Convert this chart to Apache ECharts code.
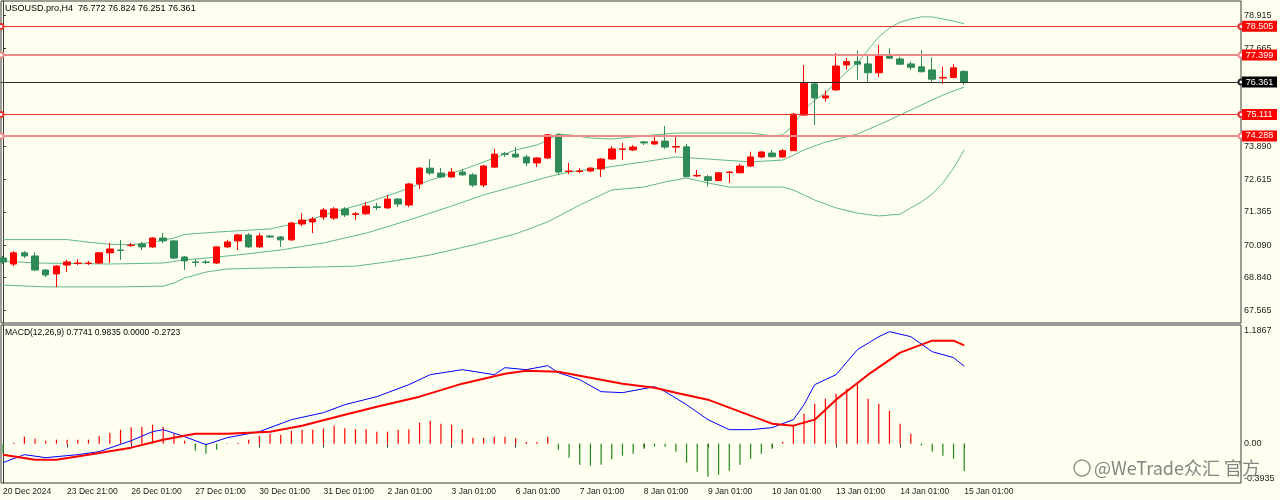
<!DOCTYPE html>
<html><head><meta charset="utf-8">
<script src="https://cdn.jsdelivr.net/npm/echarts@6/dist/echarts.min.js"></script>
<style>html,body{margin:0;padding:0;background:#fffff0}#c{width:1280px;height:500px}</style>
</head><body><div id="c"></div>
<script>
// ---- DATA ----
const symbolTitle = 'USOUSD.pro,H4  76.772 76.824 76.251 76.361';
const macdTitle = 'MACD(12,26,9) 0.7741 0.9835 0.0000 -0.2723';
// candles: [open, close, low, high]
const candles = [
[69.59,69.44,69.36,69.67],[69.36,69.79,69.28,69.86],[69.79,69.67,69.59,69.86],[69.67,69.13,69.09,69.82],
[69.13,68.94,68.86,69.17],[68.98,69.28,68.48,69.32],[69.32,69.44,69.05,69.52],[69.38,69.40,69.32,69.55],
[69.38,69.40,69.32,69.48],[69.40,69.79,69.36,69.82],[69.79,69.94,69.40,70.17],[69.90,69.88,69.52,70.29],
[70.07,70.09,70.02,70.17],[70.13,70.02,69.90,70.21],[70.02,70.36,69.98,70.40],[70.36,70.25,70.17,70.55],
[70.25,69.59,69.55,70.29],[69.63,69.48,69.13,69.67],[69.44,69.42,69.25,69.55],[69.44,69.42,69.36,69.52],
[69.40,70.02,69.36,70.05],[70.02,70.21,69.98,70.29],[70.25,70.48,69.90,70.52],[70.48,70.02,69.98,70.55],
[70.02,70.44,69.98,70.55],[70.44,70.40,70.36,70.48],[70.40,70.29,70.02,70.44],[70.29,70.94,70.25,70.98],
[70.90,71.05,70.82,71.32],[70.98,71.09,70.55,71.17],[71.17,71.44,71.06,71.52],[71.13,71.48,71.06,71.55],
[71.48,71.25,71.17,71.55],[71.27,71.29,71.06,71.36],[71.29,71.59,71.25,71.75],[71.56,71.54,71.44,71.71],
[71.52,71.86,71.48,72.02],[71.86,71.67,71.55,71.90],[71.63,72.44,71.55,72.48],[72.44,73.05,72.25,73.09],
[73.05,72.86,72.79,73.40],[72.86,72.71,72.67,73.05],[72.71,72.90,72.67,73.05],[72.90,72.79,72.75,73.02],
[72.79,72.40,72.32,72.86],[72.40,73.13,72.32,73.17],[73.09,73.59,73.05,73.79],[73.60,73.58,73.48,73.67],
[73.59,73.48,73.44,73.86],[73.48,73.25,73.13,73.56],[73.25,73.44,73.09,73.48],[73.44,74.33,73.40,74.36],
[74.33,72.90,72.79,74.40],[72.92,72.94,72.82,73.25],[72.92,72.94,72.86,73.05],[72.94,73.05,72.90,73.09],
[73.02,73.40,72.71,73.44],[73.40,73.79,73.36,73.90],[73.77,73.79,73.36,74.02],[73.75,73.86,73.71,73.94],
[74.06,74.02,73.94,74.09],[73.98,74.07,73.94,74.29],[74.09,73.86,73.79,74.67],[73.86,73.88,73.64,74.29],
[73.87,72.72,72.71,73.98],[72.75,72.77,72.71,72.98],[72.72,72.57,72.34,72.79],[72.57,72.87,72.55,72.90],
[72.88,72.90,72.48,72.94],[72.87,73.13,72.86,73.21],[73.13,73.48,73.09,73.68],[73.48,73.67,73.44,73.71],
[73.63,73.49,73.46,73.75],[73.48,73.72,73.44,73.79],[73.72,75.13,73.71,75.17],[75.09,76.32,75.06,77.02],
[76.29,75.75,74.71,76.36],[75.75,75.83,75.61,76.03],[76.06,76.98,76.02,77.48],[77.02,77.15,76.83,77.29],
[77.15,77.05,76.44,77.57],[77.06,76.72,76.38,77.40],[76.72,77.36,76.56,77.79],[77.36,77.28,77.25,77.66],
[77.25,77.05,77.02,77.33],[77.06,76.93,76.83,77.15],[76.95,76.76,76.73,77.59],[76.83,76.47,76.38,77.31],
[76.52,76.54,76.29,76.95],[76.54,76.91,76.50,77.05],[76.772,76.361,76.251,76.824]
];
// Bollinger bands: [barIndex, price]
const bbUpper = [[0,70.30],[6,70.30],[8,70.20],[10,70.12],[12,70.10],[14,70.20],[16,70.36],[17,70.50],[20,70.59],[25,70.71],[28,70.98],[31,71.36],[34,71.71],[37,72.13],[40,72.59],[43,72.98],[46,73.44],[48,73.75],[50,73.94],[51,74.13],[52,74.36],[53,74.33],[55,74.21],[57,74.17],[59,74.25],[61,74.33],[63,74.40],[66,74.40],[70,74.40],[72,74.29],[73,74.33],[74,74.71],[75,75.29],[76,75.67],[77,75.94],[78,76.36],[79,76.75],[80,77.10],[81,77.60],[82,78.10],[83,78.44],[84,78.67],[85,78.79],[86,78.87],[87,78.87],[88,78.79],[89,78.71],[90,78.60]];
const bbMiddle = [[0,69.48],[3,69.40],[10,69.36],[15,69.40],[17,69.52],[19,69.59],[22,69.71],[26,69.90],[30,70.17],[34,70.55],[38,71.05],[42,71.59],[45,72.02],[48,72.36],[51,72.71],[53,72.90],[56,73.05],[60,73.29],[63,73.48],[66,73.40],[70,73.29],[73,73.36],[74,73.55],[75,73.75],[77,74.05],[80,74.36],[83,74.90],[85,75.29],[88,75.86],[90,76.17]];
const bbLower = [[0,68.55],[4,68.48],[11,68.48],[15,68.51],[16,68.63],[17,68.82],[19,69.05],[21,69.17],[25,69.21],[30,69.25],[33,69.28],[36,69.44],[40,69.71],[44,70.09],[48,70.52],[51,70.98],[54,71.63],[57,72.21],[60,72.32],[62,72.52],[64,72.67],[66,72.48],[68,72.32],[73,72.32],[74,72.21],[76,71.82],[78,71.52],[80,71.32],[82,71.21],[84,71.28],[85,71.52],[86,71.75],[87,72.05],[88,72.48],[89,73.05],[90,73.75]];
// MACD
const macdMain = [[0,-0.19],[2,-0.11],[4,-0.14],[7,-0.11],[9,-0.08],[12,0.03],[14,0.12],[15,0.14],[17,0.07],[19,-0.01],[21,0.06],[24,0.12],[27,0.24],[30,0.31],[32,0.39],[35,0.47],[38,0.59],[40,0.69],[43,0.74],[46,0.69],[47,0.76],[49,0.74],[51,0.78],[52,0.71],[54,0.64],[56,0.52],[58,0.51],[61,0.57],[62,0.52],[64,0.39],[66,0.24],[68,0.14],[70,0.14],[72,0.16],[74,0.24],[75,0.39],[76,0.59],[78,0.69],[80,0.94],[82,1.07],[83,1.12],[85,1.07],[87,0.92],[89,0.86],[90,0.7741]];
const macdSignal = [[0,-0.11],[3,-0.16],[5,-0.16],[8,-0.11],[12,-0.04],[15,0.04],[18,0.10],[21,0.10],[25,0.12],[28,0.18],[32,0.29],[35,0.37],[39,0.47],[43,0.60],[47,0.70],[49,0.73],[52,0.72],[55,0.66],[58,0.60],[61,0.56],[63,0.51],[66,0.44],[69,0.32],[72,0.20],[74,0.18],[76,0.24],[78,0.44],[81,0.69],[84,0.91],[87,1.03],[89,1.03],[90,0.9835]];
const macdHist = [-0.10,0.01,0.07,0.05,0.03,0.04,0.04,0.04,0.04,0.076,0.11,0.14,0.165,0.17,0.19,0.17,0.10,0.03,-0.07,-0.10,
-0.06,0.005,0.01,0.04,0.08,0.10,0.09,0.13,0.14,0.14,0.15,0.18,0.155,0.145,0.145,0.12,0.12,0.14,0.145,0.21,
0.23,0.20,0.19,0.145,0.06,0.06,0.07,0.07,0.055,0.017,0.017,0.07,-0.06,-0.14,-0.21,-0.22,-0.21,-0.155,-0.12,-0.10,
-0.05,-0.03,-0.03,-0.08,-0.19,-0.28,-0.33,-0.31,-0.27,-0.21,-0.15,-0.10,-0.05,0.02,0.18,0.30,0.40,0.45,0.50,0.55,
0.60,0.45,0.40,0.33,0.20,0.10,-0.02,-0.08,-0.12,-0.15,-0.2723];
// levels
const levels = [78.505, 77.399, 75.111, 74.288];
const lastPrice = 76.361;
const priceTicks = [78.915, 77.665, 73.890, 72.615, 71.365, 70.090, 68.840, 67.565];
const macdTicks = [1.1867, 0.00, -0.3935];
const timeLabels = ['20 Dec 2024','23 Dec 21:00','26 Dec 01:00','27 Dec 01:00','30 Dec 01:00','31 Dec 01:00','2 Jan 01:00','3 Jan 01:00','6 Jan 01:00','7 Jan 01:00','8 Jan 01:00','9 Jan 01:00','10 Jan 01:00','13 Jan 01:00','14 Jan 01:00','15 Jan 01:00'];
const labelStep = 6;
const priceMin = 67.091, priceMax = 79.481;
const macdMin = -0.3935, macdMax = 1.1867;

// ---- CHART ----
const FONT = '"Liberation Sans", Arial, sans-serif';
const chart = echarts.init(document.getElementById('c'));
const xMin = -0.19, xMax = xMin + 1240 / 10.68;
const tickIdx = timeLabels.map((_, k) => k * labelStep);
const UP = '#ff0000', DOWN = '#2e8b57', BB = '#62b88a';
const levelStyles = [
  {color:'#e53030', width:1}, {color:'#f08a8a', width:2},
  {color:'#e53030', width:1}, {color:'#f08a8a', width:2}
];
const option = {
  animation: false,
  backgroundColor: '#fffff0',
  grid: [
    {left:1, top:1, width:1240, height:322, show:true, borderColor:'#3a3a3a', borderWidth:1, backgroundColor:'transparent'},
    {left:1, top:325, width:1240, height:158, show:true, borderColor:'#3a3a3a', borderWidth:1, backgroundColor:'transparent'}
  ],
  xAxis: [
    {gridIndex:0, type:'value', min:xMin, max:xMax, show:false},
    {gridIndex:1, type:'value', min:xMin, max:xMax, splitLine:{show:false}, axisLine:{show:false},
     axisTick:{show:true, customValues:tickIdx, length:4, lineStyle:{color:'#3a3a3a'}},
     axisLabel:{customValues:tickIdx, formatter:v => timeLabels[Math.round(v / labelStep)] || '', align:'left',
       fontSize:8.5, fontFamily:FONT, color:'#222', margin:4}}
  ],
  yAxis: [
    {gridIndex:0, type:'value', position:'right', min:priceMin, max:priceMax, splitLine:{show:false},
     axisLine:{show:true, lineStyle:{color:'#3a3a3a'}},
     axisTick:{show:true, customValues:priceTicks, length:3, lineStyle:{color:'#3a3a3a'}},
     axisLabel:{customValues:priceTicks, formatter:v => v.toFixed(3), fontSize:9, fontFamily:FONT, color:'#222', margin:3}},
    {gridIndex:1, type:'value', position:'right', min:macdMin, max:macdMax, splitLine:{show:false},
     axisLine:{show:true, lineStyle:{color:'#3a3a3a'}}, axisTick:{show:false}, axisLabel:{show:false}}
  ],
  series: [
    {type:'line', xAxisIndex:0, yAxisIndex:0, data:bbUpper, showSymbol:false, lineStyle:{color:BB, width:1}, silent:true, z:2},
    {type:'line', xAxisIndex:0, yAxisIndex:0, data:bbMiddle, showSymbol:false, lineStyle:{color:BB, width:1}, silent:true, z:2},
    {type:'line', xAxisIndex:0, yAxisIndex:0, data:bbLower, showSymbol:false, lineStyle:{color:BB, width:1}, silent:true, z:2},
    {type:'candlestick', xAxisIndex:0, yAxisIndex:0, barWidth:7, z:3,
     data: candles.map((c, i) => [i, c[0], c[1], c[2], c[3]]),
     itemStyle:{color:UP, color0:DOWN, borderColor:UP, borderColor0:DOWN, borderWidth:1},
     markLine:{silent:true, symbol:['emptyCircle','emptyCircle'], symbolSize:5, label:{show:false}, animation:false,
       data: levels.map((v, k) => ({yAxis:v, lineStyle:{type:'solid', color:levelStyles[k].color, width:levelStyles[k].width}, itemStyle:{color:levelStyles[k].color}}))
         .concat([{yAxis:lastPrice, symbol:'none', lineStyle:{type:'solid', color:'#2a2a2a', width:1}}])}
    },
    {type:'bar', xAxisIndex:1, yAxisIndex:1, barWidth:1.2, silent:true,
     data: macdHist.map((v, i) => [i, v]),
     itemStyle:{color: p => p.value[1] >= 0 ? '#ff0000' : '#1e8a1e'}},
    {type:'line', xAxisIndex:1, yAxisIndex:1, data:macdMain, showSymbol:false, lineStyle:{color:'#0000ff', width:1}, silent:true},
    {type:'line', xAxisIndex:1, yAxisIndex:1, data:macdSignal, showSymbol:false, lineStyle:{color:'#ff0000', width:2}, silent:true}
  ]
};
chart.setOption(option);

// overlay labels positioned via the axes' scales
const g = [];
g.push({type:'text', left:5, top:4, style:{text:symbolTitle, font:'9px ' + FONT, fill:'#000'}});
g.push({type:'text', left:5, top:328, style:{text:macdTitle, font:'8.5px ' + FONT, fill:'#000'}});
function boxLabel(v, bg) {
  const y = chart.convertToPixel({yAxisIndex:0}, v);
  g.push({type:'rect', shape:{x:1242, y:y - 5.5, width:35, height:11}, style:{fill:bg}, z:100});
  g.push({type:'text', x:1259.5, y:y, style:{text:v.toFixed(3), font:'9px ' + FONT, fill:'#fff', align:'center', verticalAlign:'middle'}, z:101});
}
levels.forEach(v => boxLabel(v, '#ff0000'));
boxLabel(lastPrice, '#000');
macdTicks.forEach((v, k) => {
  let y = chart.convertToPixel({yAxisIndex:1}, v);
  if (k === 0) y += 6; else if (k === macdTicks.length - 1) y -= 4;
  g.push({type:'text', x:1244, y:y, style:{text: v === 0 ? '0.00' : String(v), font:'9px ' + FONT, fill:'#222', verticalAlign:'middle'}, z:50});
});
// watermark
g.push({type:'circle', shape:{cx:1082, cy:468, r:8}, style:{fill:'none', stroke:'rgba(120,120,120,0.8)', lineWidth:1.5}, z:200});
g.push({type:'text', x:1094, y:468, style:{text:'@WeTrade众汇 官方', font:'18px "Noto Sans CJK SC", sans-serif', fill:'rgba(110,110,110,0.85)', verticalAlign:'middle'}, z:200});
chart.setOption({graphic:g});
</script></body></html>
